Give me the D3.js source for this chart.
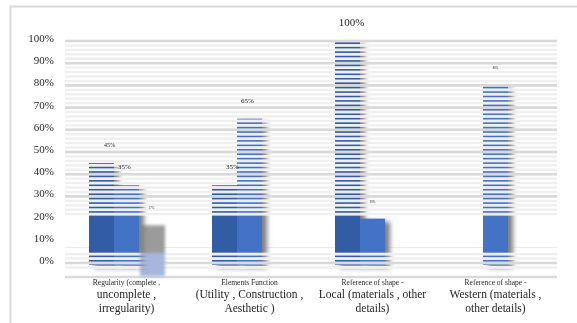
<!DOCTYPE html>
<html>
<head>
<meta charset="utf-8">
<script src="https://cdn.jsdelivr.net/npm/d3@7"></script>
<style>
  html, body { margin: 0; padding: 0; background: #fff; }
  svg { display: block; }
  text { font-family: "Liberation Serif", "DejaVu Serif", serif; fill: #262626; }
</style>
</head>
<body>
<svg id="chart" width="577" height="323"></svg>
<script>
// Categories: first line (small) and the remaining caption lines
const categoryHeads = ["Regularity (complete ,", "Elements Function", "Reference of shape -", "Reference of shape -"];
const categoryLines = [
  ["uncomplete ,", "irregularity)"],
  ["(Utility , Construction ,", "Aesthetic )"],
  ["Local (materials , other", "details)"],
  ["Western (materials ,", "other details)"]
];
const seriesNames = ["A", "B", "C"];
const seriesA = [0.45, 0.35, 1.00, 0];
const seriesB = [0.35, 0.65, 0.20, 0.80];
const seriesC = [0.17, 0, 0, 0];
const yTicks = [0, 0.1, 0.2, 0.3, 0.4, 0.5, 0.6, 0.7, 0.8, 0.9, 1.0];

const svg = d3.select("#chart");
const W = 577, H = 323;
const plotLeft = 65, plotRight = 557, plotTop = 41, zeroY = 263;

// outer frame
svg.append("rect").attr("x", 10.5).attr("y", 6.5).attr("width", 600).attr("height", 400)
  .attr("fill", "none").attr("stroke", "#d9d9d9").attr("stroke-width", 2);

const x0 = d3.scaleBand().domain(d3.range(categoryHeads.length)).range([plotLeft, plotRight]).padding(0);
const x1 = d3.scaleBand().domain(seriesNames).range([0, x0.bandwidth()]).paddingInner(0).paddingOuter(0.96);
const y = d3.scaleLinear().domain([0, 1]).range([zeroY, plotTop]);

// striped rows: every 2 %, except the plain band between about 4.5 % and 21 %
const stripeSteps = d3.range(-2, 101, 2).map(v => v / 100).filter(v => v > 0.21 || v < 0.045);

const defs = svg.append("defs");
const blur = defs.append("filter").attr("id", "shadow").attr("x", "-50%").attr("y", "-50%").attr("width", "200%").attr("height", "200%");
blur.append("feGaussianBlur").attr("stdDeviation", 2.6);
const soft = defs.append("filter").attr("id", "soft").attr("x", "-50%").attr("y", "-50%").attr("width", "200%").attr("height", "200%");
soft.append("feGaussianBlur").attr("stdDeviation", 1.4);

const mask = defs.append("mask").attr("id", "rows").attr("maskUnits", "userSpaceOnUse")
  .attr("x", 0).attr("y", 0).attr("width", W).attr("height", H);
mask.append("rect").attr("x", 0).attr("y", 0).attr("width", W).attr("height", H).attr("fill", "#fff");
mask.selectAll("rect.gap").data(stripeSteps).join("rect").attr("class", "gap")
  .attr("x", 0).attr("width", W).attr("y", d => y(d) - 1.4).attr("height", 2.8).attr("fill", "#000");

// third series: grey above the low band, pale blue within it
const grad = defs.append("linearGradient").attr("id", "seriesC").attr("gradientUnits", "userSpaceOnUse")
  .attr("x1", 0).attr("x2", 0).attr("y1", y(0.2)).attr("y2", y(-0.06));
const split = (y(0.045) - y(0.2)) / (y(-0.06) - y(0.2));
grad.append("stop").attr("offset", 0).attr("stop-color", "#9b9b9b");
grad.append("stop").attr("offset", split).attr("stop-color", "#9b9b9b");
grad.append("stop").attr("offset", split).attr("stop-color", "#a7b6dd");
grad.append("stop").attr("offset", 1).attr("stop-color", "#a7b6dd");

// gridlines
const grid = svg.append("g");
grid.selectAll("line.minor").data(stripeSteps).join("line").attr("class", "minor")
  .attr("x1", plotLeft).attr("x2", plotRight).attr("y1", d => y(d)).attr("y2", d => y(d))
  .attr("stroke", "#efefef").attr("stroke-width", 2.4);
grid.selectAll("line.major").data(yTicks.filter(v => v > 0.21 || v < 0.045).concat([0.07])).join("line").attr("class", "major")
  .attr("x1", plotLeft).attr("x2", plotRight).attr("y1", d => y(d)).attr("y2", d => y(d))
  .attr("stroke", d => d === 0.07 ? "#ececec" : "#d9d9d9").attr("stroke-width", d => d === 0.07 ? 1 : 2.6);
grid.append("line").attr("x1", plotLeft).attr("x2", plotRight).attr("y1", zeroY + 14).attr("y2", zeroY + 14)
  .attr("stroke", "#d9d9d9").attr("stroke-width", 2.6);

// bars
const rows = categoryHeads.map((c, i) => ({ i, vals: [seriesA[i], seriesB[i], seriesC[i]] }));
const colors = ["#325ca4", "#4472c4", "url(#seriesC)"];

// third series, drawn solid and soft-edged
const solid = svg.append("g");
solid.selectAll("rect").data(rows.filter(r => r.vals[2] > 0)).join("rect")
  .attr("x", d => x0(d.i) + x1("C") + 1)
  .attr("y", d => y(d.vals[2]))
  .attr("width", x1.bandwidth())
  .attr("height", d => y(-0.06) - y(d.vals[2]))
  .attr("fill", colors[2])
  .attr("filter", "url(#soft)");

// first two series with their shadows, cut by the striped rows
const bars = svg.append("g").attr("mask", "url(#rows)");
const groups = bars.selectAll("g").data(rows).join("g").attr("transform", d => `translate(${x0(d.i)},0)`);

groups.selectAll("rect.sh").data(d => d.vals.map((v, k) => ({ v, k })).filter(d => d.v > 0 && d.k < 2))
  .join("rect").attr("class", "sh")
  .attr("x", d => x1(seriesNames[d.k]) + 5).attr("y", d => y(d.v) + 3)
  .attr("width", x1.bandwidth()).attr("height", d => y(0) - y(d.v) + 2)
  .attr("fill", "#7f7f7f").attr("filter", "url(#shadow)");

groups.selectAll("rect.bar").data(d => d.vals.map((v, k) => ({ v, k })).filter(d => d.v > 0 && d.k < 2))
  .join("rect").attr("class", "bar")
  .attr("x", d => x1(seriesNames[d.k]))
  .attr("y", d => y(d.v))
  .attr("width", x1.bandwidth())
  .attr("height", d => y(0) - y(d.v) + 2)
  .attr("fill", d => colors[d.k]);

// value labels
const labels = svg.append("g");
rows.forEach(r => {
  r.vals.forEach((v, k) => {
    if (v <= 0) return;
    const big = v >= 1;
    const tiny = (k === 2) || (v === 0.2) || (v === 0.8);
    labels.append("text")
      .attr("x", x0(r.i) + x1(seriesNames[k]) + x1.bandwidth() / 2 + (k === 0 ? (big ? 4 : 8) : (tiny ? 0 : -2)))
      .attr("y", y(v) - (big ? 15 : 16))
      .attr("text-anchor", "middle")
      .attr("font-size", big ? 11 : tiny ? 3 : (k === 0 && r.i === 0 ? 6 : 7))
      .attr("fill", tiny ? "#8a8a8a" : "#262626")
      .text(d3.format(".0%")(v));
  });
});

// y axis labels
const yAxis = d3.axisLeft(y).tickValues(yTicks).tickFormat(d3.format(".0%")).tickSize(0).tickPadding(0);
const ya = svg.append("g").attr("transform", "translate(54,-3)").call(yAxis);
ya.select(".domain").remove();
ya.selectAll("text").attr("font-size", 11).attr("font-family", "Liberation Serif, serif").attr("fill", "#262626");

// category captions
const cat = svg.append("g");
rows.forEach(r => {
  const cx = x0(r.i) + x0.bandwidth() / 2;
  cat.append("text").attr("x", cx).attr("y", 285).attr("text-anchor", "middle").attr("font-size", 7.5).text(categoryHeads[r.i]);
  categoryLines[r.i].forEach((line, j) => {
    cat.append("text").attr("x", cx).attr("y", 298 + j * 13.5).attr("text-anchor", "middle").attr("font-size", 11.5).text(line);
  });
});
</script>
</body>
</html>
